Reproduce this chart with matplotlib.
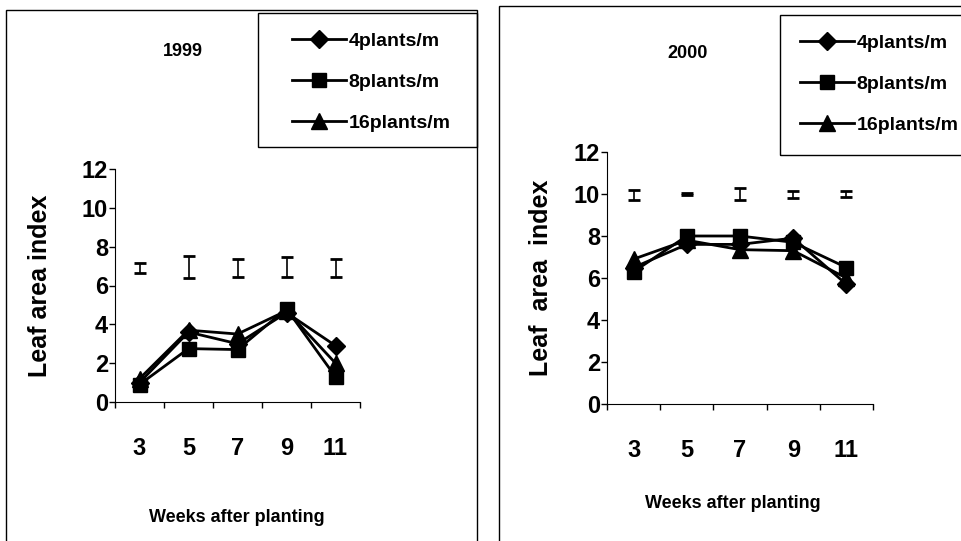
import matplotlib.pyplot as plt
from matplotlib.patches import Rectangle

# leaf area index per sampling week, three plant densities
weeks = ['3', '5', '7', '9', '11']

lai_1999_4 = [1.0, 3.6, 3.0, 4.6, 2.9]
lai_1999_8 = [0.9, 2.75, 2.7, 4.8, 1.3]
lai_1999_16 = [1.2, 3.7, 3.5, 4.7, 2.0]

lai_2000_4 = [6.5, 7.6, 7.6, 7.9, 5.7]
lai_2000_8 = [6.3, 8.0, 8.0, 7.7, 6.5]
lai_2000_16 = [6.9, 7.8, 7.35, 7.3, 6.0]

# LSD bars drawn above the curves
lsd_1999_mid = [6.9, 6.95, 6.9, 6.95, 6.9]
lsd_1999_half = [0.28, 0.55, 0.47, 0.5, 0.47]
lsd_2000_mid = [9.95, 10.0, 10.0, 9.98, 10.0]
lsd_2000_half = [0.22, 0.04, 0.28, 0.18, 0.15]

density_labels = ['4plants/m', '8plants/m', '16plants/m']

plt.rcParams['font.family'] = ['Liberation Sans', 'DejaVu Sans']
plt.rcParams['font.weight'] = 'bold'

W, H = 962, 541
fig = plt.figure(figsize=(W / 100, H / 100), dpi=100)


def fx(px):
    return px / W


def fy(py):
    return 1 - py / H


def panel(rect, series, lsd_mid, lsd_half, ylabel, label_x):
    ax = fig.add_axes(rect)
    x = range(len(weeks))
    markers = [('D', 9), ('s', 10), ('^', 11)]
    handles = []
    for vals, (m, ms), lab in zip(series, markers, density_labels):
        h, = ax.plot(x, vals, color='black', lw=2, marker=m, ms=ms, label=lab)
        handles.append(h)
    ax.errorbar(x, lsd_mid, yerr=lsd_half, fmt='none', ecolor='black',
                elinewidth=1.2, capsize=4.5, capthick=2)
    ax.set_xlim(-0.5, 4.5)
    ax.set_ylim(0, 12)
    ax.set_yticks(range(0, 13, 2))
    ax.set_xticks([i - 0.5 for i in range(6)])
    ax.set_xticklabels([])
    ax.set_xticks(list(x), minor=True)
    ax.set_xticklabels(weeks, minor=True)
    ax.tick_params(axis='x', which='major', direction='out', length=4, width=1)
    ax.tick_params(axis='x', which='minor', length=0, pad=25, labelsize=17)
    ax.tick_params(axis='y', direction='out', length=4, width=1, pad=1, labelsize=17)
    for s in ['top', 'right']:
        ax.spines[s].set_visible(False)
    ax.set_ylabel(ylabel, fontsize=18, fontweight='bold')
    ax.yaxis.set_label_coords(label_x, 0.5)
    return ax, handles


def legend_box(handles, x0, y0, x1, y1, hx, hy):
    fig.patches.append(Rectangle((fx(x0), fy(y1)), fx(x1 - x0), (y1 - y0) / H,
                                 transform=fig.transFigure, fill=False,
                                 edgecolor='black', lw=1))
    fig.legend(handles=handles, loc='upper left', bbox_to_anchor=(fx(hx), fy(hy)),
               frameon=False, borderpad=0, borderaxespad=0, handlelength=2.8,
               handletextpad=0.12, labelspacing=1.2,
               prop={'weight': 'bold', 'size': 14})


# outer chart frames
fig.patches.append(Rectangle((fx(6), fy(548)), fx(471), 538 / H,
                             transform=fig.transFigure, fill=False, edgecolor='black', lw=1))
fig.patches.append(Rectangle((fx(499), fy(548)), fx(470), 542 / H,
                             transform=fig.transFigure, fill=False, edgecolor='black', lw=1))

ax1, h1 = panel([fx(115), fy(402), fx(245), 233 / H],
                [lai_1999_4, lai_1999_8, lai_1999_16],
                lsd_1999_mid, lsd_1999_half, 'Leaf area index', -0.257)
ax2, h2 = panel([fx(607), fy(404), fx(266), 252 / H],
                [lai_2000_4, lai_2000_8, lai_2000_16],
                lsd_2000_mid, lsd_2000_half, 'Leaf  area  index', -0.203)

legend_box(h1, 258, 13, 477, 147, 292, 32)
legend_box(h2, 780, 15, 966, 155, 800, 34)

fig.text(fx(183), fy(52), '1999', ha='center', va='center',
         fontweight='bold', fontsize=13)
fig.text(fx(688), fy(53), '2000', ha='center', va='center',
         fontweight='bold', fontsize=13)
fig.text(fx(237), fy(517), 'Weeks after planting', ha='center', va='center',
         fontweight='bold', fontsize=13)
fig.text(fx(733), fy(503), 'Weeks after planting', ha='center', va='center',
         fontweight='bold', fontsize=13)

fig.savefig('out.png', dpi=100)
